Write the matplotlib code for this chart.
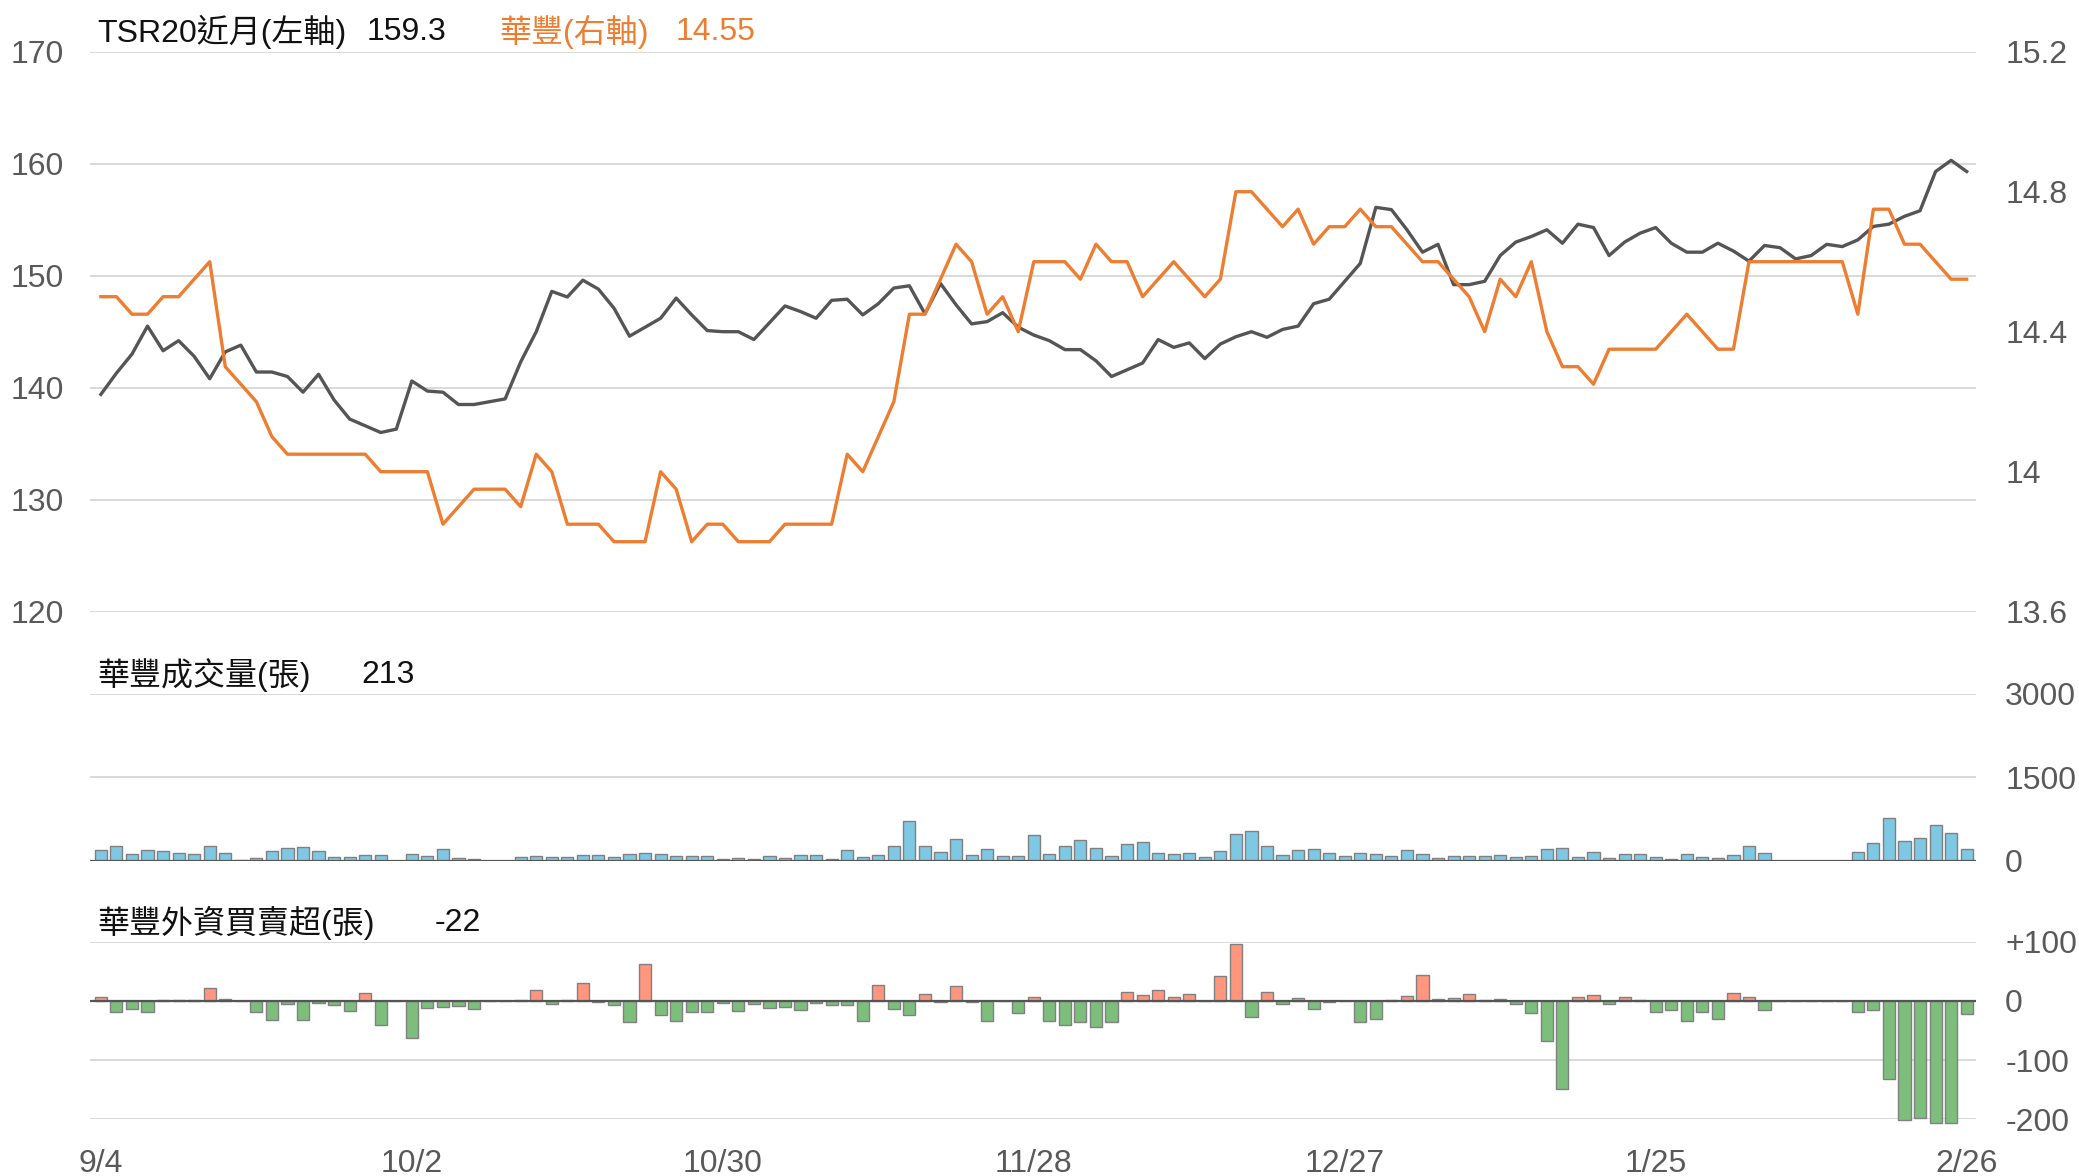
import numpy as np
import matplotlib
matplotlib.use('Agg')
import matplotlib.pyplot as plt

plt.rcParams['font.family'] = ['Liberation Sans', 'Noto Sans CJK TC', 'DejaVu Sans']

# fechas del eje x (cada 20 sesiones)
fechas = ['9/4', '10/2', '10/30', '11/28', '12/27', '1/25', '2/26']

# TSR20 近月 (eje izquierdo)
tsr20 = [139.4, 141.3, 143.0, 145.5, 143.3, 144.2, 142.8, 140.8, 143.2, 143.8,
         141.4, 141.4, 141.0, 139.6, 141.2, 138.9, 137.2, 136.6, 136.0, 136.3,
         140.6, 139.7, 139.6, 138.5, 138.5, 138.75, 139.0, 142.3, 145.0, 148.6,
         148.1, 149.6, 148.8, 147.1, 144.6, 145.4, 146.2, 148.0, 146.5, 145.1,
         145.0, 145.0, 144.3, 145.8, 147.3, 146.8, 146.2, 147.8, 147.9, 146.5,
         147.5, 148.9, 149.1, 146.6, 149.3, 147.4, 145.7, 145.9, 146.7, 145.4,
         144.7, 144.2, 143.4, 143.4, 142.4, 141.0, 141.6, 142.2, 144.3, 143.6,
         144.0, 142.6, 143.9, 144.55, 145.0, 144.5, 145.2, 145.5, 147.5, 147.9,
         149.5, 151.1, 156.1, 155.9, 154.1, 152.1, 152.8, 149.2, 149.2, 149.5,
         151.8, 153.0, 153.5, 154.1, 152.9, 154.6, 154.3, 151.8, 153.0, 153.8,
         154.3, 152.9, 152.1, 152.1, 152.9, 152.2, 151.3, 152.7, 152.5, 151.5,
         151.8, 152.8, 152.6, 153.2, 154.4, 154.6, 155.3, 155.8, 159.3, 160.3, 159.3]

# 華豐 precio (eje derecho)
huafeng = [14.50, 14.50, 14.45, 14.45, 14.50, 14.50, 14.55, 14.60, 14.30, 14.25,
           14.20, 14.10, 14.05, 14.05, 14.05, 14.05, 14.05, 14.05, 14.00, 14.00,
           14.00, 14.00, 13.85, 13.90, 13.95, 13.95, 13.95, 13.90, 14.05, 14.00,
           13.85, 13.85, 13.85, 13.80, 13.80, 13.80, 14.00, 13.95, 13.80, 13.85,
           13.85, 13.80, 13.80, 13.80, 13.85, 13.85, 13.85, 13.85, 14.05, 14.00,
           14.10, 14.20, 14.45, 14.45, 14.55, 14.65, 14.60, 14.45, 14.50, 14.40,
           14.60, 14.60, 14.60, 14.55, 14.65, 14.60, 14.60, 14.50, 14.55, 14.60,
           14.55, 14.50, 14.55, 14.80, 14.80, 14.75, 14.70, 14.75, 14.65, 14.70,
           14.70, 14.75, 14.70, 14.70, 14.65, 14.60, 14.60, 14.55, 14.50, 14.40,
           14.55, 14.50, 14.60, 14.40, 14.30, 14.30, 14.25, 14.35, 14.35, 14.35,
           14.35, 14.40, 14.45, 14.40, 14.35, 14.35, 14.60, 14.60, 14.60, 14.60,
           14.60, 14.60, 14.60, 14.45, 14.75, 14.75, 14.65, 14.65, 14.60, 14.55, 14.55]

# 成交量 (張)
volumen = [198, 264, 126, 186, 168, 132, 126, 264, 138, 18,
           54, 168, 222, 240, 174, 66, 60, 102, 96, 0,
           120, 78, 210, 48, 36, 0, 0, 66, 78, 60,
           60, 96, 96, 60, 114, 144, 126, 90, 90, 78,
           24, 48, 30, 78, 48, 108, 102, 30, 192, 66,
           102, 258, 720, 258, 150, 384, 102, 216, 78, 78,
           462, 114, 264, 378, 222, 90, 294, 342, 138, 126,
           138, 66, 180, 486, 528, 264, 96, 186, 210, 138,
           84, 144, 120, 78, 198, 114, 42, 78, 78, 78,
           102, 60, 90, 204, 222, 72, 162, 42, 120, 120,
           60, 36, 120, 60, 42, 96, 264, 132, 0, 0,
           0, 0, 0, 156, 318, 774, 360, 408, 636, 492, 213]

# 外資買賣超 (張)
neto = [6, -19, -14, -19, 2, 2, 1, 22, 4, 0,
        -19, -32, -5, -32, -4, -7, -17, 14, -41, 0,
        -62, -12, -10, -9, -14, 0, 0, 2, 18, -6,
        1, 30, -1, -7, -36, 63, -23, -34, -18, -19,
        -3, -17, -5, -12, -11, -16, -3, -7, -7, -34,
        27, -14, -23, 12, -1, 26, -2, -34, 0, -20,
        6, -34, -40, -35, -44, -35, 15, 10, 19, 6,
        11, 0, 42, 96, -27, 15, -6, 5, -13, -2,
        0, -36, -30, 2, 8, 43, 3, 5, 11, 2,
        4, -5, -20, -68, -149, 7, 10, -6, 6, 1,
        -18, -15, -34, -19, -30, 14, 7, -15, 0, 0,
        0, 0, 0, -19, -15, -132, -201, -198, -206, -206, -22]

x = np.arange(len(tsr20))

W, H = 2079, 1176
gris_txt = '#595959'
gris_grid = '#d9d9d9'
fs = 23


def limpiar(ax):
    for s in ax.spines.values():
        s.set_visible(False)
    ax.set_xlim(-0.7, 120.6)
    ax.tick_params(axis='x', length=0, labelbottom=False)


def caja(x0, y_top, y_bot):
    return [x0 / W, 1 - y_bot / H, (1976 - x0) / W, (y_bot - y_top) / H]


fig = plt.figure(figsize=(W / 100, H / 100), dpi=100)

# Panel de precios
ax1 = fig.add_axes(caja(90, 51.7, 611.7))
limpiar(ax1)
ax1.set_ylim(120, 170)
ax1.set_yticks(range(120, 171, 10))
ax1.grid(axis='y', color=gris_grid, lw=1.4)
ax1.set_axisbelow(True)
ax1.tick_params(axis='y', length=0, pad=19, labelsize=fs, labelcolor=gris_txt)
ax1.plot(x, tsr20, color='#555555', lw=2.4)

ax2 = ax1.twinx()
limpiar(ax2)
ax2.set_ylim(13.6, 15.2)
ax2.set_yticks([13.6, 14.0, 14.4, 14.8, 15.2])
ax2.set_yticklabels(['13.6', '14', '14.4', '14.8', '15.2'])
ax2.tick_params(axis='y', length=0, pad=21, labelsize=fs, labelcolor=gris_txt)
ax2.plot(x, huafeng, color='#ED7D31', lw=2.4)

# Panel de volumen
ax3 = fig.add_axes(caja(90, 693.6, 860.7))
limpiar(ax3)
ax3.set_ylim(0, 3000)
ax3.set_yticks([0, 1500, 3000])
ax3.yaxis.tick_right()
ax3.grid(axis='y', color=gris_grid, lw=1.4)
ax3.set_axisbelow(True)
ax3.tick_params(axis='y', length=0, pad=21, labelsize=fs, labelcolor=gris_txt)
ax3.bar(x, volumen, width=0.78, color='#7EC8E3', edgecolor='#808080', linewidth=1)
ax3.axhline(0, color='#555555', lw=1.6)

# Panel de compra/venta neta
ax4 = fig.add_axes(caja(90, 941.7, 1119.4))
limpiar(ax4)
ax4.set_ylim(-200, 100)
ax4.set_yticks([100, 0, -100, -200])
ax4.set_yticklabels(['+100', '0', '-100', '-200'])
ax4.yaxis.tick_right()
ax4.grid(axis='y', color=gris_grid, lw=1.4)
ax4.set_axisbelow(True)
ax4.tick_params(axis='y', length=0, pad=21, labelsize=fs, labelcolor=gris_txt)
colores = ['#FF967D' if v > 0 else '#7DBE7D' for v in neto]
ax4.bar(x, neto, width=0.78, color=colores, edgecolor='#808080', linewidth=1, clip_on=False)
ax4.axhline(0, color='#555555', lw=1.6)
ax4.set_xticks(range(0, 121, 20))
ax4.set_xticklabels(fechas)
ax4.tick_params(axis='x', length=0, pad=21, labelsize=fs, labelcolor=gris_txt, labelbottom=True)

# Titulos de cada panel
def rotulo(px, py, txt, color='#111111'):
    fig.text(px / W, 1 - py / H, txt, fontsize=fs, color=color, va='center', ha='left')

rotulo(97, 32, 'TSR20近月(左軸)')
rotulo(367, 32, '159.3')
rotulo(499, 32, '華豐(右軸)', '#ED7D31')
rotulo(676, 32, '14.55', '#ED7D31')
rotulo(97, 675, '華豐成交量(張)')
rotulo(361, 675, '213')
rotulo(97, 923, '華豐外資買賣超(張)')
rotulo(435, 923, '-22')

fig.savefig('out.png', dpi=100)
